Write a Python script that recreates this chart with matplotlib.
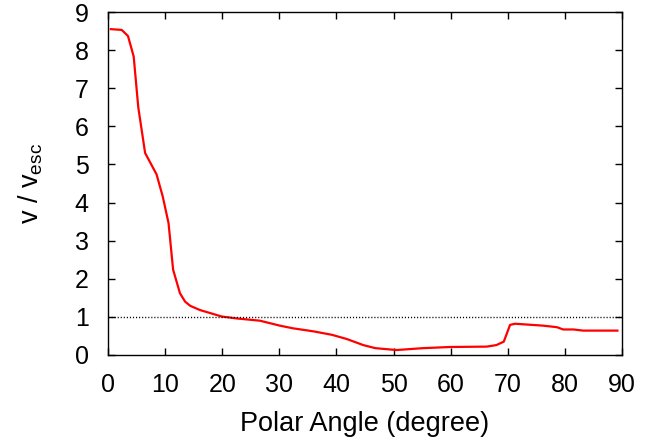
import matplotlib
matplotlib.use('Agg')
import matplotlib.pyplot as plt

# values
angle = [0.5, 2.4, 3.5, 4.5, 5.3, 6.5, 8.5, 9.6, 10.6, 11.4, 12.6, 13.5, 14.4,
         16.1, 17.9, 19.9, 22.5, 26.6, 30.1, 32.4, 36.0, 39.2, 41.8, 44.7,
         46.8, 50.5, 55.2, 59.9, 66.3, 68.0, 69.3, 70.4, 71.3, 76.2, 78.6,
         79.7, 81.5, 83.2, 89.2]
ratio = [8.55, 8.53, 8.37, 7.83, 6.5, 5.30, 4.74, 4.15, 3.46, 2.24, 1.62, 1.40, 1.29,
         1.18, 1.10, 1.01, 0.96, 0.90, 0.77, 0.70, 0.62, 0.53, 0.42, 0.26,
         0.18, 0.13, 0.18, 0.21, 0.22, 0.26, 0.35, 0.79, 0.82, 0.77, 0.73,
         0.67, 0.67, 0.64, 0.64]

plt.rcParams['font.family'] = 'Liberation Sans'
plt.rcParams['mathtext.fontset'] = 'custom'
plt.rcParams['mathtext.rm'] = 'Liberation Sans'
plt.rcParams['mathtext.it'] = 'Liberation Sans'

fig = plt.figure(figsize=(6.69, 4.45), dpi=100)
ax = fig.add_axes([108 / 669, 1 - 355 / 445, (622 - 108) / 669, (355 - 12) / 445])

ax.plot(angle, ratio, color='red', linewidth=1.6)
ax.axhline(1, color='black', linestyle=(0, (0.8, 1.4)), linewidth=1)

ax.set_xlim(0, 90)
ax.set_ylim(0, 9)
ax.set_xticks(range(0, 91, 10))
ax.set_yticks(range(0, 10))
ax.tick_params(direction='in', top=True, right=True, length=5, width=1,
               labelsize=18, pad=13)
ax.tick_params(axis='y', pad=14)
for s in ax.spines.values():
    s.set_linewidth(1)

ax.set_xlabel('Polar Angle (degree)', fontsize=19.5, labelpad=10)
ax.set_ylabel(r'v / v$_{\mathrm{esc}}$', fontsize=19.5, labelpad=21)

fig.savefig('out.png', dpi=100)
